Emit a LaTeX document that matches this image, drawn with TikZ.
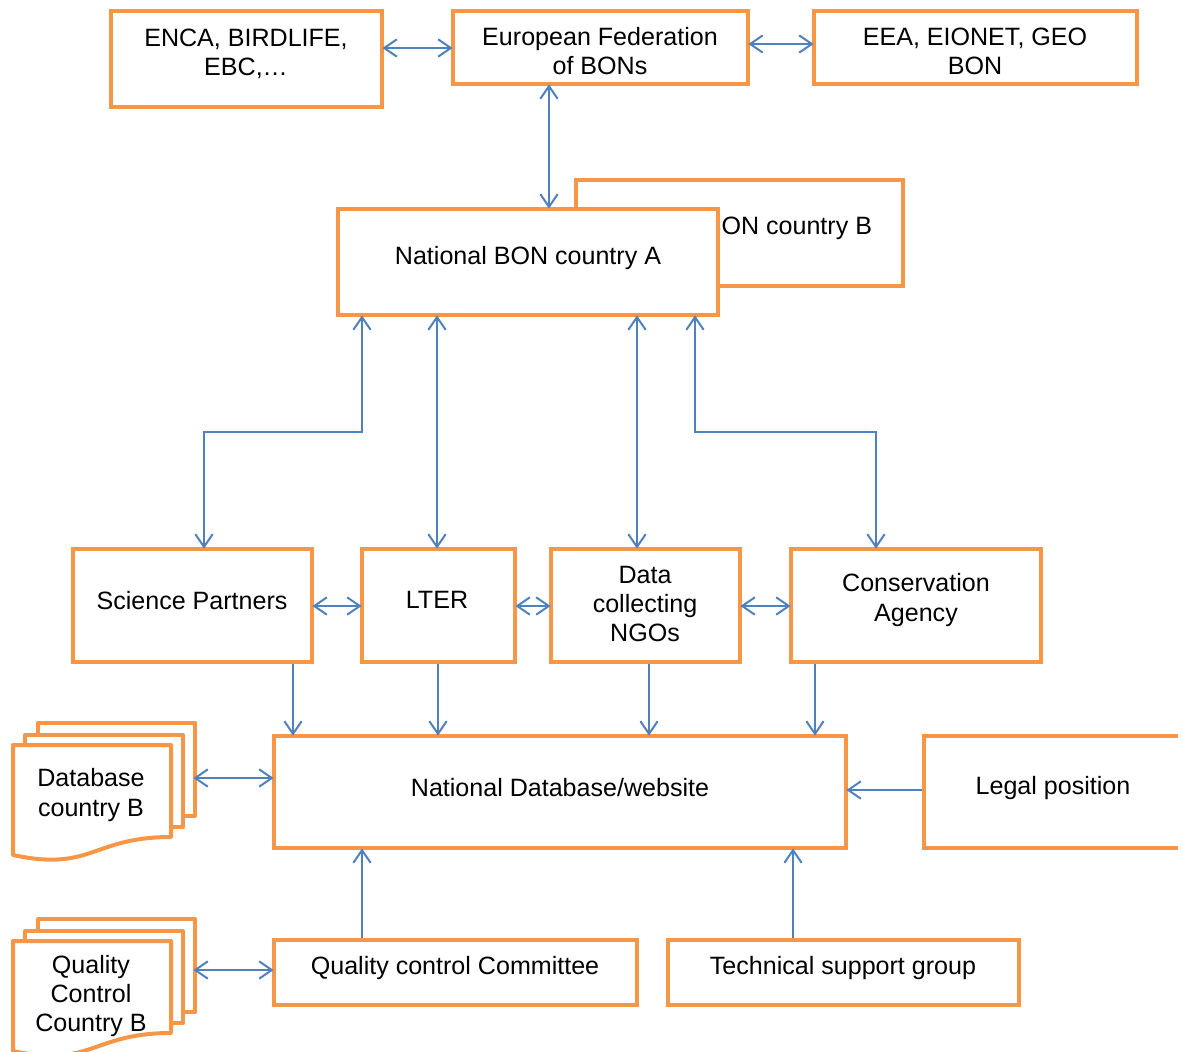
\documentclass[tikz,border=0pt]{standalone}
\usepackage{fontspec}
\setmainfont{Liberation Sans}
\usetikzlibrary{arrows.meta}

\definecolor{boxorange}{HTML}{F79646}
\definecolor{linkblue}{HTML}{4F81BD}

\tikzset{
  box/.style={draw=boxorange, line width=3pt, fill=white, inner sep=0pt},
  lbl/.style={align=center, inner sep=0pt, text=black,
    font=\fontsize{18.8}{21.8}\selectfont},
  barb/.tip={Straight Barb[length=9.5pt,width=13pt,line width=1.5pt]},
  link/.style={draw=linkblue, line width=1.5pt, barb-barb,
    shorten <=-1.2pt, shorten >=-1.2pt},
  feed/.style={draw=linkblue, line width=1.5pt, -barb, shorten >=-1.2pt},
  sheet/.style={draw=boxorange, line width=3pt, fill=white, line join=round},
}

% box from corner (x1,y1) to corner (x2,y2), in pixel units
\newcommand\pxbox[5]{%
  \node[box, minimum width={(#4-#2)*0.75pt}, minimum height={(#5-#3)*0.75pt}]
    (#1) at ({(#2+#4)/2},{(#3+#5)/2}) {};}

% stack of three sheets with a wavy lower edge, front sheet top-left at (#2,#3)
\newcommand\sheetstack[3]{%
  \begin{scope}[shift={(#2,#3)}]
    \draw[sheet] (25,-22) rectangle (182,71);
    \draw[sheet] (12,-10) rectangle (170,82);
    \draw[sheet] (0,0) -- (158,0) -- (158,92)
      .. controls (79,92) and (79,127) .. (0,110) -- cycle;
    \coordinate (#1) at (182,33);
  \end{scope}}

\begin{document}
\begin{tikzpicture}[x=0.75pt, y=-0.75pt]
\useasboundingbox (0,0) rectangle (1178,1051);
\clip (0,0) rectangle (1178,1051);

% top row
\pxbox{enca}{111}{11}{382}{107}
\node[lbl] (enca-t) at (246,54) {ENCA, BIRDLIFE,\\EBC,…};
\pxbox{eurfed}{453}{11}{748}{84}
\node[lbl] (eurfed-t) at (600,51) {European Federation\\of BONs};
\pxbox{eea}{814}{11}{1137}{84}
\node[lbl] (eea-t) at (975,51) {EEA, EIONET, GEO\\BON};

% national networks (country B lies behind country A)
\pxbox{bonB}{576}{180}{903}{286}
\node[lbl] (bonB-t) at (739,228) {National BON country B};
\pxbox{bonA}{338}{209}{718}{315}
\node[lbl] (bonA-t) at (528,258) {National BON country A};

% partner row
\pxbox{sp}{73}{549}{312}{662}
\node[lbl] (sp-t) at (192,601) {Science Partners};
\pxbox{lter}{362}{549}{515}{662}
\node[lbl] (lter-t) at (437,600) {LTER};
\pxbox{ngo}{551}{549}{740}{662}
\node[lbl] (ngo-t) at (645,604) {Data\\collecting\\NGOs};
\pxbox{ca}{791}{549}{1041}{662}
\node[lbl] (ca-t) at (916,600) {Conservation\\Agency};

% database row
\pxbox{ndb}{274}{736}{846}{848}
\node[lbl] (ndb-t) at (560,788) {National Database/website};
\pxbox{legal}{924}{736}{1200}{848}
\node[lbl] (legal-t) at (1053,788) {Legal position};

\sheetstack{dbB}{13}{745}
\node[lbl] (dbB-t) at (91,795) {Database\\country B};

% bottom row
\pxbox{qcc}{274}{940}{637}{1005}
\node[lbl] (qcc-t) at (455,968) {Quality control Committee};
\pxbox{tsg}{668}{940}{1019}{1005}
\node[lbl] (tsg-t) at (843,968) {Technical support group};

\sheetstack{qcB}{13}{941}
\node[lbl] (qcB-t) at (91,996) {Quality\\Control\\Country B};

% helper positions for connectors
\coordinate (ya) at (0,48);
\coordinate (yb) at (0,44);
\coordinate (xa) at (549,0);
\coordinate (e1) at (362,432);
\coordinate (e2) at (204,432);
\coordinate (e3) at (695,432);
\coordinate (e4) at (876,432);
\coordinate (xl) at (437,0);
\coordinate (xn) at (637,0);
\coordinate (yr) at (0,606);
\coordinate (d1) at (293,0);
\coordinate (d2) at (438,0);
\coordinate (d3) at (649,0);
\coordinate (d4) at (815,0);
\coordinate (ydb) at (0,778);
\coordinate (ylg) at (0,790);
\coordinate (yqc) at (0,970);
\coordinate (xq) at (362,0);
\coordinate (xt) at (793,0);

% connectors
\draw[link] (enca.east |- ya) -- (eurfed.west |- ya);
\draw[link] (eurfed.east |- yb) -- (eea.west |- yb);
\draw[link] (eurfed.south -| xa) -- (bonA.north -| xa);

\draw[link] (bonA.south -| e1) -- (e1) -- (e2) -- (sp.north -| e2);
\draw[link] (bonA.south -| xl) -- (lter.north -| xl);
\draw[link] (bonA.south -| xn) -- (ngo.north -| xn);
\draw[link] (bonA.south -| e3) -- (e3) -- (e4) -- (ca.north -| e4);

\draw[link] (sp.east |- yr) -- (lter.west |- yr);
\draw[link] (lter.east |- yr) -- (ngo.west |- yr);
\draw[link] (ngo.east |- yr) -- (ca.west |- yr);

\draw[feed] (sp.south -| d1) -- (ndb.north -| d1);
\draw[feed] (lter.south -| d2) -- (ndb.north -| d2);
\draw[feed] (ngo.south -| d3) -- (ndb.north -| d3);
\draw[feed] (ca.south -| d4) -- (ndb.north -| d4);

\draw[link] (dbB |- ydb) -- (ndb.west |- ydb);
\draw[feed] (legal.west |- ylg) -- (ndb.east |- ylg);
\draw[feed] (qcc.north -| xq) -- (ndb.south -| xq);
\draw[feed] (tsg.north -| xt) -- (ndb.south -| xt);
\draw[link] (qcB |- yqc) -- (qcc.west |- yqc);
\end{tikzpicture}
\end{document}
